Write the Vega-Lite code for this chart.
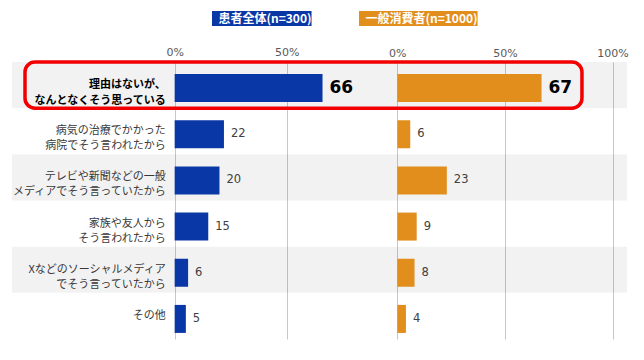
{
  "$schema": "https://vega.github.io/schema/vega-lite/v6.json",
  "width": 615,
  "height": 277,
  "autosize": {"type": "none"},
  "padding": {"left": 12, "top": 62, "right": 17, "bottom": 21},
  "background": "#ffffff",
  "config": {"view": {"stroke": null}, "font": "Noto Sans CJK JP"},
  "data": {
    "values": [
      {"cat": "理由はないが、\nなんとなくそう思っている", "group": "患者全体(n=300)", "pct": 66},
      {"cat": "病気の治療でかかった\n病院でそう言われたから", "group": "患者全体(n=300)", "pct": 22},
      {"cat": "テレビや新聞などの一般\nメディアでそう言っていたから", "group": "患者全体(n=300)", "pct": 20},
      {"cat": "家族や友人から\nそう言われたから", "group": "患者全体(n=300)", "pct": 15},
      {"cat": "Xなどのソーシャルメディア\nでそう言っていたから", "group": "患者全体(n=300)", "pct": 6},
      {"cat": "その他", "group": "患者全体(n=300)", "pct": 5},
      {"cat": "理由はないが、\nなんとなくそう思っている", "group": "一般消費者(n=1000)", "pct": 67},
      {"cat": "病気の治療でかかった\n病院でそう言われたから", "group": "一般消費者(n=1000)", "pct": 6},
      {"cat": "テレビや新聞などの一般\nメディアでそう言っていたから", "group": "一般消費者(n=1000)", "pct": 23},
      {"cat": "家族や友人から\nそう言われたから", "group": "一般消費者(n=1000)", "pct": 9},
      {"cat": "Xなどのソーシャルメディア\nでそう言っていたから", "group": "一般消費者(n=1000)", "pct": 8},
      {"cat": "その他", "group": "一般消費者(n=1000)", "pct": 4}
    ]
  },
  "encoding": {
    "y": {
      "field": "cat",
      "type": "nominal",
      "axis": null,
      "scale": {
        "domain": [
          "理由はないが、\nなんとなくそう思っている",
          "病気の治療でかかった\n病院でそう言われたから",
          "テレビや新聞などの一般\nメディアでそう言っていたから",
          "家族や友人から\nそう言われたから",
          "Xなどのソーシャルメディア\nでそう言っていたから",
          "その他"
        ],
        "paddingInner": 0,
        "paddingOuter": 0
      }
    }
  },
  "resolve": {"scale": {"x": "independent"}},
  "layer": [
    {
      "transform": [{"filter": {"field": "group", "equal": "患者全体(n=300)"}}],
      "layer": [
        {
          "transform": [{"filter": {"field": "cat", "oneOf": ["理由はないが、\nなんとなくそう思っている", "テレビや新聞などの一般\nメディアでそう言っていたから", "Xなどのソーシャルメディア\nでそう言っていたから"]}}],
          "mark": {"type": "rect", "fill": "#000000", "opacity": 0.051},
          "encoding": {
            "x": {"datum": -72.6, "type": "quantitative"},
            "x2": {"datum": 201.9}
          }
        },
        {
          "mark": {"type": "bar", "size": 28, "yOffset": 3},
          "encoding": {
            "x": {
              "field": "pct",
              "type": "quantitative",
              "scale": {"domain": [-72.6, 201.9], "nice": false, "zero": false},
              "axis": {
                "orient": "top",
                "values": [0, 50],
                "labelExpr": "datum.value + '%'",
                "title": null,
                "domain": false,
                "ticks": false,
                "grid": true,
                "gridColor": "#c8c8c8",
                "gridWidth": 1,
                "labelFont": "DejaVu Sans",
                "labelFontSize": 11,
                "labelColor": "#595959",
                "labelPadding": 5
              }
            },
            "color": {
              "field": "group",
              "type": "nominal",
              "scale": {"domain": ["患者全体(n=300)", "一般消費者(n=1000)"], "range": ["#0a37a6", "#e28e1d"]},
              "legend": {
                "orient": "none",
                "legendX": 200,
                "legendY": -51,
                "direction": "horizontal",
                "title": null,
                "symbolType": "M-1,-0.14H1V0.14H-1Z",
                "symbolSize": 11236,
                "symbolStrokeWidth": 0,
                "symbolOpacity": 1,
                "clipHeight": 15,
                "labelOffset": -53,
                "labelAlign": "center",
                "labelColor": "#ffffff",
                "labelFontSize": 12,
                "labelFontWeight": "bold",
                "labelFont": "Noto Sans CJK JP",
                "columnPadding": 47,
                "padding": 0,
                "labelLimit": 0,
                "encode": {
                  "symbols": {"update": {
                    "size": {"signal": "datum.value == '患者全体(n=300)' ? 11236 : 15625"},
                    "x": {"signal": "datum.value == '患者全体(n=300)' ? 53 : 62.5"}
                  }},
                  "labels": {"update": {"x": {"signal": "datum.value == '患者全体(n=300)' ? 53 : 62.5"}}}
                }
              }
            }
          }
        },
        {
          "transform": [{"filter": "datum.cat != '理由はないが、\\nなんとなくそう思っている'"}],
          "mark": {"type": "text", "align": "left", "baseline": "middle", "dx": 7, "yOffset": 3, "font": "DejaVu Sans", "fontSize": 11.5, "color": "#404040"},
          "encoding": {
            "x": {"field": "pct", "type": "quantitative"},
            "text": {"field": "pct", "type": "quantitative"}
          }
        },
        {
          "transform": [{"filter": "datum.cat == '理由はないが、\\nなんとなくそう思っている'"}],
          "mark": {"type": "text", "align": "left", "baseline": "middle", "dx": 7, "yOffset": 3, "font": "DejaVu Sans", "fontWeight": "bold", "fontSize": 17, "color": "#000000"},
          "encoding": {
            "x": {"field": "pct", "type": "quantitative"},
            "text": {"field": "pct", "type": "quantitative"}
          }
        },
        {
          "transform": [{"filter": "datum.cat != '理由はないが、\\nなんとなくそう思っている'"}],
          "mark": {"type": "text", "align": "right", "baseline": "middle", "lineBreak": "\n", "font": "Noto Sans CJK JP", "fontSize": 11, "lineHeight": 15, "color": "#383838"},
          "encoding": {
            "x": {"datum": -4, "type": "quantitative"},
            "text": {"field": "cat", "type": "nominal"}
          }
        },
        {
          "transform": [{"filter": "datum.cat == '理由はないが、\\nなんとなくそう思っている'"}],
          "mark": {"type": "text", "align": "right", "baseline": "middle", "lineBreak": "\n", "font": "Noto Sans CJK JP", "fontWeight": "bold", "fontSize": 11, "lineHeight": 16, "color": "#000000"},
          "encoding": {
            "x": {"datum": -4, "type": "quantitative"},
            "text": {"field": "cat", "type": "nominal"}
          }
        },
        {
          "transform": [{"filter": "datum.cat == '理由はないが、\\nなんとなくそう思っている'"}],
          "mark": {"type": "rect", "fill": "transparent", "stroke": "#f20000", "strokeWidth": 3.5, "cornerRadius": 10},
          "encoding": {
            "x": {"datum": -66.8, "type": "quantitative"},
            "x2": {"datum": 181.8}
          }
        }
      ]
    },
    {
      "transform": [{"filter": {"field": "group", "equal": "一般消費者(n=1000)"}}],
      "layer": [
        {
          "mark": {"type": "bar", "size": 28, "yOffset": 3},
          "encoding": {
            "x": {
              "field": "pct",
              "type": "quantitative",
              "scale": {"domain": [-179, 106.7], "nice": false, "zero": false},
              "axis": {
                "orient": "top",
                "values": [0, 50, 100],
                "labelExpr": "datum.value + '%'",
                "title": null,
                "domain": false,
                "ticks": false,
                "grid": true,
                "gridColor": "#c8c8c8",
                "gridWidth": 1,
                "labelFont": "DejaVu Sans",
                "labelFontSize": 11,
                "labelColor": "#595959",
                "labelPadding": 4
              }
            },
            "color": {
              "field": "group",
              "type": "nominal",
              "scale": {"domain": ["患者全体(n=300)", "一般消費者(n=1000)"], "range": ["#0a37a6", "#e28e1d"]}
            }
          }
        },
        {
          "transform": [{"filter": "datum.cat != '理由はないが、\\nなんとなくそう思っている'"}],
          "mark": {"type": "text", "align": "left", "baseline": "middle", "dx": 7, "yOffset": 3, "font": "DejaVu Sans", "fontSize": 11.5, "color": "#404040"},
          "encoding": {
            "x": {"field": "pct", "type": "quantitative"},
            "text": {"field": "pct", "type": "quantitative"}
          }
        },
        {
          "transform": [{"filter": "datum.cat == '理由はないが、\\nなんとなくそう思っている'"}],
          "mark": {"type": "text", "align": "left", "baseline": "middle", "dx": 7, "yOffset": 3, "font": "DejaVu Sans", "fontWeight": "bold", "fontSize": 17, "color": "#000000"},
          "encoding": {
            "x": {"field": "pct", "type": "quantitative"},
            "text": {"field": "pct", "type": "quantitative"}
          }
        }
      ]
    }
  ]
}
